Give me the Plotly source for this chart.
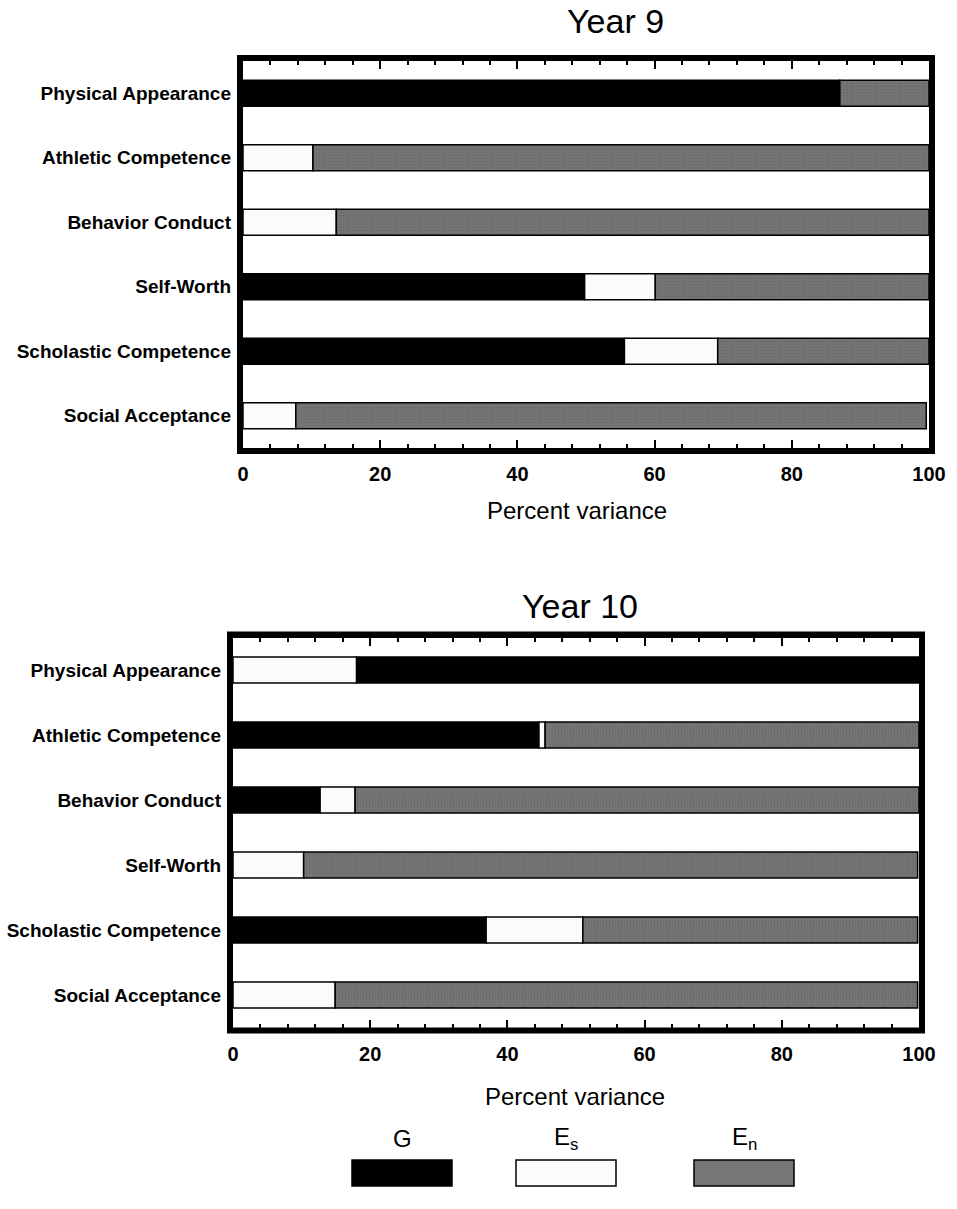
import plotly.graph_objects as go

W, H = 957, 1209

categories = ["Physical Appearance", "Athletic Competence", "Behavior Conduct",
              "Self-Worth", "Scholastic Competence", "Social Acceptance"]

# Year 9 (percent variance)
y9_G = [87.0, 0, 0, 49.8, 55.6, 0]
y9_Es = [0, 10.2, 13.6, 10.3, 13.6, 7.7]
y9_En = [13.0, 89.8, 86.4, 39.9, 30.8, 91.9]

# Year 10 (percent variance)
y10_G = [82.0, 44.6, 12.7, 0, 36.9, 0]
y10_Es = [18.0, 0.9, 5.1, 10.3, 14.1, 14.9]
y10_En = [0, 54.5, 82.2, 89.5, 48.8, 84.9]
y10_es_first = [True, False, False, False, False, False]

years = ["Year 9", "Year 10"]
tick_vals = [0, 20, 40, 60, 80, 100]
tick_text = ["0", "20", "40", "60", "80", "100"]

C_G = "#000000"
C_ES = "#fbfbfb"
C_EN = "#767676"
FONT = "Liberation Sans, Arial, Helvetica, sans-serif"


def px(x):
    return x / W


def py(y):
    return 1 - y / H


def nz(v):
    return [None if a == 0 else a for a in v]


fig = go.Figure()


def add_bars(G, Es, En, es_first, xa, ya):
    baseG, baseEs, baseEn = [], [], []
    for g, e, n, f in zip(G, Es, En, es_first):
        if f:
            baseEs.append(0)
            baseG.append(e)
        else:
            baseG.append(0)
            baseEs.append(g)
        baseEn.append(g + e)
    for vals, base, col, name in [(G, baseG, C_G, "G"), (Es, baseEs, C_ES, "Es"),
                                   (En, baseEn, C_EN, "En")]:
        marker = dict(color=col, line=dict(color="black", width=1.5))
        if name == "En":
            marker["pattern"] = dict(shape=".", fgcolor="#5a5a5a", bgcolor=C_EN,
                                     size=3, solidity=0.3, fillmode="overlay")
        fig.add_trace(go.Bar(
            y=categories, x=nz(vals), base=base, orientation="h", name=name,
            marker=marker, width=0.4, xaxis=xa, yaxis=ya, showlegend=False))


add_bars(y9_G, y9_Es, y9_En, [False] * 6, "x", "y")
add_bars(y10_G, y10_Es, y10_En, y10_es_first, "x2", "y2")

# plot areas in pixels: (x0, x1, y0, y1)
areas = [(243, 929, 61, 448), (233, 919, 637.5, 1027.5)]

xcommon = dict(range=[0, 100], tickvals=tick_vals, ticktext=tick_text,
               ticks="inside", ticklen=8, tickwidth=1.5, tickcolor="black",
               mirror="ticks", showline=True, linecolor="black", linewidth=1,
               showgrid=False, zeroline=False, automargin=False,
               minor=dict(dtick=4, tick0=0, ticks="inside", ticklen=4,
                          tickwidth=1.5, tickcolor="black", showgrid=False),
               tickfont=dict(size=20, color="black", family=FONT, weight="bold"),
               ticklabelstandoff=8, fixedrange=True)
ycommon = dict(categoryorder="array", categoryarray=categories,
               range=[5.5, -0.5], ticks="", showline=False, showgrid=False,
               zeroline=False, automargin=False,
               tickfont=dict(size=19, color="black", family=FONT, weight="bold"),
               ticklabelstandoff=11, fixedrange=True)

layout = dict(
    width=W, height=H, margin=dict(l=0, r=0, t=0, b=0, pad=0), autosize=False,
    paper_bgcolor="white", plot_bgcolor="white", barmode="overlay",
    font=dict(family=FONT, color="black"),
)
for i, (x0, x1, y0, y1) in enumerate(areas):
    sfx = "" if i == 0 else str(i + 1)
    xa = dict(xcommon, domain=[px(x0), px(x1)], anchor="y" + sfx)
    ya = dict(ycommon, domain=[py(y1), py(y0)], anchor="x" + sfx)
    layout["xaxis" + sfx] = xa
    layout["yaxis" + sfx] = ya
fig.update_layout(**layout)

# thick frames around plot areas
for (x0, x1, y0, y1) in areas:
    fig.add_shape(type="rect", xref="paper", yref="paper",
                  x0=px(x0 - 3), x1=px(x1 + 3), y0=py(y1 + 3), y1=py(y0 - 3),
                  line=dict(color="black", width=6), fillcolor="rgba(0,0,0,0)",
                  layer="above")

# titles and axis titles
title_pos = [(615, 21), (580, 606)]
xtitle_pos = [(577, 510), (575, 1096)]
for t, (tx, ty), (ax, ay) in zip(years, title_pos, xtitle_pos):
    fig.add_annotation(text=t, x=px(tx), y=py(ty), xref="paper", yref="paper",
                       showarrow=False, font=dict(size=34, color="black"),
                       xanchor="center", yanchor="middle")
    fig.add_annotation(text="Percent variance", x=px(ax), y=py(ay), xref="paper",
                       yref="paper", showarrow=False,
                       font=dict(size=24, color="black"),
                       xanchor="center", yanchor="middle")

# legend
legend_labels = ["G", "E<sub>s</sub>", "E<sub>n</sub>"]
legend_colors = [C_G, C_ES, C_EN]
legend_x = [(352, 452), (516, 616), (694, 794)]
for lab, col, (lx0, lx1) in zip(legend_labels, legend_colors, legend_x):
    fig.add_shape(type="rect", xref="paper", yref="paper",
                  x0=px(lx0), x1=px(lx1), y0=py(1186), y1=py(1160),
                  line=dict(color="black", width=1.5), fillcolor=col)
    fig.add_annotation(text=lab, x=px((lx0 + lx1) / 2), y=py(1138), xref="paper",
                       yref="paper", showarrow=False,
                       font=dict(size=24, color="black"),
                       xanchor="center", yanchor="middle")

fig.write_html(
    "out.html",
    config={"displayModeBar": False},
    post_script="document.documentElement.style.margin='0';"
                "document.body.style.margin='0';"
                "document.body.style.overflow='hidden';",
)
